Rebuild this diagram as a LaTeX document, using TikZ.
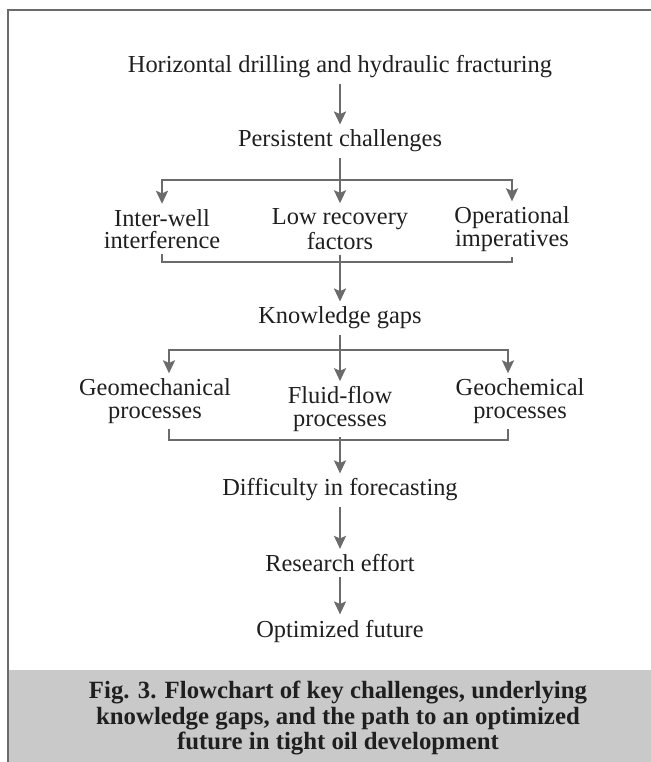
\documentclass[tikz,border=0pt]{standalone}
\usepackage{fontspec}
\setmainfont{Liberation Serif}
\usetikzlibrary{arrows.meta}
\colorlet{flow line}{black!58}
\colorlet{caption area}{black!21}
\tikzset{
  step text/.style={inner sep=2.5pt, align=center, font=\fontsize{12.2}{11.2}\selectfont, text=black!88},
  flow/.style={draw=flow line, line width=1.1pt},
  flow arrow/.style={flow, -{Stealth[length=6.5pt, width=6pt, inset=1.3pt]}}
}

\begin{document}
\begin{tikzpicture}[x=0.5pt, y=-0.5pt]
    \useasboundingbox (0,0) rectangle (651,762);
    \fill[caption area] (9,670) rectangle (651,762);
    \draw[flow, line width=1.3pt] (651,10) -- (8,10) -- (8,762);
    \node[font=\fontsize{12.4}{12.6}\selectfont\bfseries, align=center, text=black!88] (cap) at (338,718)
      {Fig. 3. Flowchart of key challenges, underlying\\knowledge gaps, and the path to an optimized\\future in tight oil development};

    \node[step text] (drill) at (340,67) {Horizontal drilling and hydraulic fracturing};
    \node[step text] (pers) at (340,141) {Persistent challenges};
    \node[step text] (inter) at (162,229) {Inter-well\\interference};
    \node[step text] (recov) at (340,229) {Low recovery\\factors};
    \node[step text] (oper) at (512,229) {Operational\\imperatives};
    \node[step text] (gaps) at (340,318) {Knowledge gaps};
    \node[step text] (geomech) at (155,401) {Geomechanical\\processes};
    \node[step text] (fluid) at (340,409) {Fluid-flow\\processes};
    \node[step text] (geochem) at (520,401) {Geochemical\\processes};
    \node[step text] (fore) at (340,490) {Difficulty in forecasting};
    \node[step text] (effort) at (340,563) {Research effort};
    \node[step text] (future) at (340,631) {Optimized future};

    \coordinate (split a) at (340,180);
    \coordinate (join a) at (340,262);
    \coordinate (split b) at (340,350);
    \coordinate (join b) at (340,440);

    \draw[flow arrow] (drill) -- (pers);
    \draw[flow] (pers) -- (split a);
    \draw[flow arrow] (split a) -| (inter.north);
    \draw[flow arrow] (split a) -- (recov);
    \draw[flow arrow] (split a) -| (oper.north);
    \draw[flow] (inter.south) |- (join a) -| (oper.south);
    \draw[flow] (recov) -- (join a);
    \draw[flow arrow] (join a) -- (gaps);
    \draw[flow] (gaps) -- (split b);
    \draw[flow arrow] (split b) -| ([xshift=7] geomech.north);
    \draw[flow arrow] (split b) -- (fluid);
    \draw[flow arrow] (split b) -| ([xshift=-6] geochem.north);
    \draw[flow] ([xshift=7] geomech.south) |- (join b) -| ([xshift=-6] geochem.south);
    \draw[flow] (fluid) -- (join b);
    \draw[flow arrow] (join b) -- (fore);
    \draw[flow arrow] (fore) -- (effort);
    \draw[flow arrow] (effort) -- (future);
  \end{tikzpicture}
\end{document}
